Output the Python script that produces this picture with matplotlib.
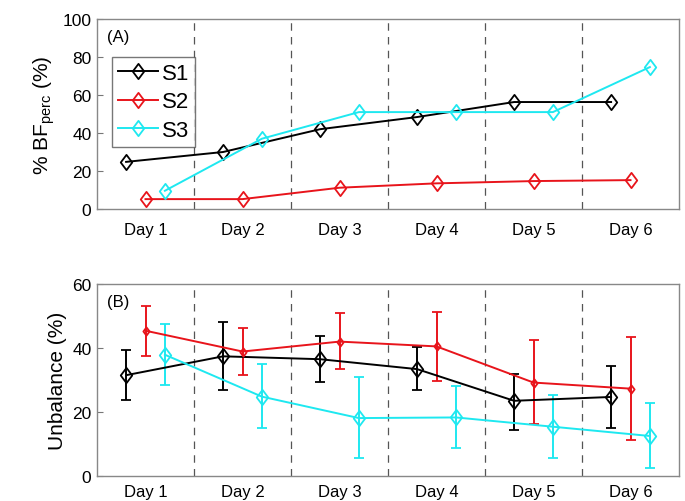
import matplotlib
matplotlib.use("Agg")
import matplotlib.pyplot as plt
from matplotlib.path import Path
import numpy as np

plt.rcParams['font.family'] = ['Liberation Sans', 'DejaVu Sans']

days = ["Day 1", "Day 2", "Day 3", "Day 4", "Day 5", "Day 6"]
series = ["S1", "S2", "S3"]
colors = ["black", "#e8141b", "#1ee8f0"]

bf_s1 = [24.8, 30.0, 42.0, 48.4, 56.3, 56.3]
bf_s2 = [5.2, 5.2, 11.2, 13.5, 14.7, 15.2]
bf_s3 = [9.6, 37.0, 51.0, 51.0, 51.0, 74.7]

unb_s1 = [31.5, 37.4, 36.5, 33.4, 23.5, 24.7]
unb_s1_hi = [39.5, 48.0, 43.6, 40.2, 32.0, 34.4]
unb_s1_lo = [23.7, 26.9, 29.4, 26.8, 14.4, 15.1]
unb_s2 = [45.4, 38.9, 42.0, 40.5, 29.2, 27.3]
unb_s2_hi = [53.2, 46.2, 50.8, 51.4, 42.5, 43.3]
unb_s2_lo = [37.6, 31.5, 33.4, 29.7, 16.4, 11.2]
unb_s3 = [37.9, 24.8, 18.1, 18.3, 15.4, 12.5]
unb_s3_hi = [47.5, 35.0, 30.8, 28.0, 25.3, 22.8]
unb_s3_lo = [28.5, 14.9, 5.5, 8.9, 5.7, 2.4]

offsets = [-0.2, 0.0, 0.2]
x = np.arange(1, 7)

diamond = Path([(0, 1), (0.75, 0), (0, -1), (-0.75, 0), (0, 1)],
               [Path.MOVETO, Path.LINETO, Path.LINETO, Path.LINETO, Path.CLOSEPOLY])

fig = plt.figure(figsize=(6.85, 5.02), dpi=100)
L, R = 97, 679
ax1 = fig.add_axes([L/685, 1-210/502, (R-L)/685, 190/502])
ax2 = fig.add_axes([L/685, 1-477/502, (R-L)/685, 192/502])

def style(ax, ylim, yticks, xpad):
    ax.set_xlim(0.5, 6.5)
    ax.set_ylim(*ylim)
    ax.set_yticks(yticks)
    ax.set_xticks(x)
    ax.set_xticklabels(days, fontsize=12)
    ax.tick_params(axis='y', labelsize=12.5, direction='in', length=4, color='#777777', pad=4)
    ax.tick_params(axis='x', length=0, pad=xpad)
    for s in ax.spines.values():
        s.set_color('#888888')
        s.set_linewidth(1.0)
    for b in np.arange(1.5, 6.5, 1.0):
        ax.axvline(b, color='#555555', linestyle=(0, (6, 5)), linewidth=0.9, zorder=0)

bfs = [bf_s1, bf_s2, bf_s3]
for i in range(3):
    ax1.plot(x + offsets[i], bfs[i], color=colors[i], marker=diamond, markersize=11,
             markerfacecolor='none', markeredgewidth=1.3, linewidth=1.4, label=series[i])
style(ax1, (0, 100), [0, 20, 40, 60, 80, 100], 9)
ax1.set_ylabel("% BF$_{\\mathregular{perc}}$ (%)", fontsize=15)
ax1.text(0.6, 91, "(A)", fontsize=12, va='center')
leg = ax1.legend(loc='upper left', bbox_to_anchor=(0.026, 0.8), fontsize=16,
                 frameon=True, fancybox=False, edgecolor='#555555', handlelength=1.8,
                 handletextpad=0.2, borderpad=0.25, labelspacing=0.35, borderaxespad=0)
leg.get_frame().set_linewidth(1.0)

unb = [unb_s1, unb_s2, unb_s3]
his = [unb_s1_hi, unb_s2_hi, unb_s3_hi]
los = [unb_s1_lo, unb_s2_lo, unb_s3_lo]
msizes = [11, 6, 11]
for i in range(3):
    v = np.array(unb[i])
    yerr = [v - np.array(los[i]), np.array(his[i]) - v]
    ax2.errorbar(x + offsets[i], v, yerr=yerr, color=colors[i], marker=diamond,
                 markersize=msizes[i], markerfacecolor='none', markeredgewidth=1.3,
                 linewidth=1.4, elinewidth=1.4, capsize=3.3, capthick=1.4)
style(ax2, (0, 60), [0, 20, 40, 60], 6)
ax2.set_ylabel("Unbalance (%)", fontsize=15)
ax2.text(0.6, 54.5, "(B)", fontsize=12, va='center')

fig.savefig("out.png", dpi=100)
